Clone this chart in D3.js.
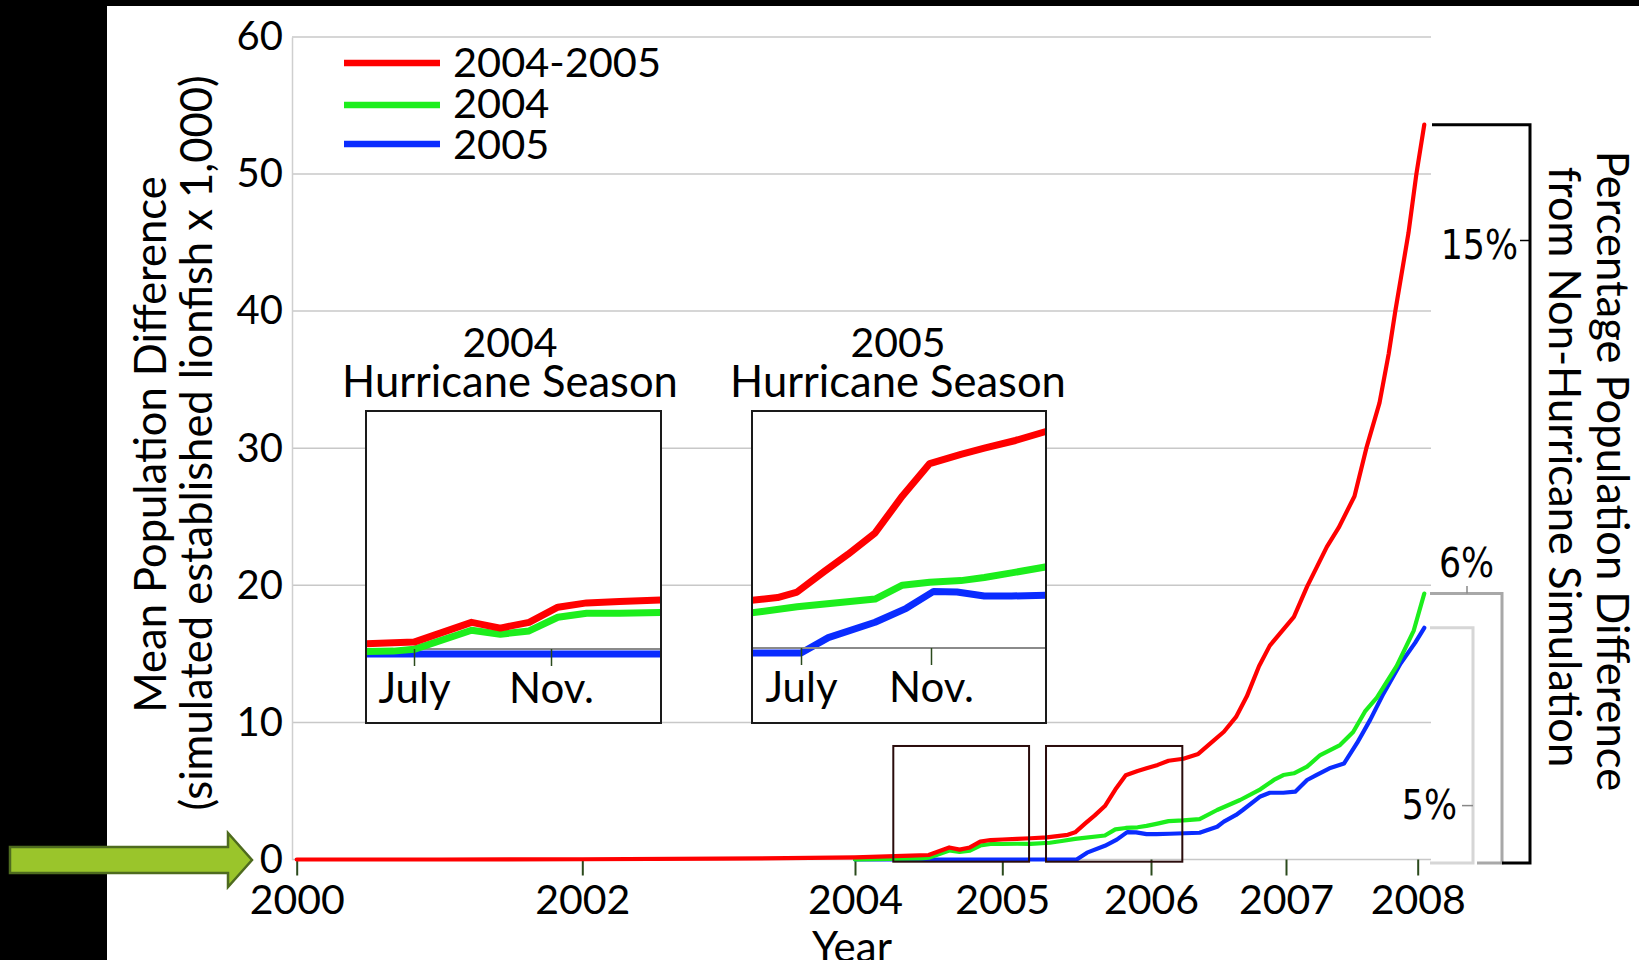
<!DOCTYPE html>
<html><head><meta charset="utf-8">
<script src="https://cdn.jsdelivr.net/npm/d3@7"></script>
<style>html,body{margin:0;padding:0;background:#000;}svg{display:block}</style>
</head><body>
<svg id="c" width="1639" height="960"></svg>
<script>
// ---------------- DATA ----------------
const seriesNames = ["2004-2005", "2004", "2005"];
const seriesColors = ["#ff0000", "#1cee1c", "#0a2cff"];
const yTicks = [0, 10, 20, 30, 40, 50, 60];
const xTickYears = [2000, 2002, 2004, 2005, 2006, 2007, 2008];

// [year, mean population difference (x1,000)]
const red2004_2005 = [
  [2000,0],[2001,0],[2002,0.02],[2003,0.06],[2003.5,0.1],[2004,0.15],[2004.38,0.28],[2004.5,0.33],
  [2004.64,0.88],[2004.71,0.72],[2004.78,0.88],[2004.85,1.3],[2004.92,1.42],[2005.0,1.46],[2005.1,1.5],
  [2005.19,1.55],[2005.3,1.62],[2005.44,1.8],[2005.49,1.98],[2005.56,2.65],[2005.62,3.2],[2005.69,3.9],
  [2005.76,5.1],[2005.83,6.15],[2005.91,6.45],[2005.97,6.65],[2006.05,6.9],[2006.13,7.2],[2006.24,7.35],
  [2006.35,7.7],[2006.44,8.47],[2006.54,9.32],[2006.63,10.4],[2006.71,11.9],[2006.8,14.1],[2006.88,15.6],
  [2007.06,17.7],[2007.16,19.9],[2007.31,22.8],[2007.4,24.2],[2007.52,26.5],[2007.61,30.0],[2007.71,33.3],
  [2007.78,36.9],[2007.83,40.0],[2007.93,45.7],[2007.99,50.0],[2008.05,53.6]
];
const green2004 = [
  [2004.0,0],[2004.45,0.08],[2004.5,0.13],[2004.64,0.66],[2004.71,0.55],[2004.78,0.64],[2004.85,1.02],
  [2004.92,1.13],[2005.0,1.13],[2005.1,1.15],[2005.19,1.14],[2005.32,1.22],[2005.4,1.35],[2005.49,1.5],
  [2005.69,1.75],[2005.76,2.2],[2005.83,2.3],[2005.91,2.35],[2005.97,2.45],[2006.04,2.6],[2006.13,2.8],
  [2006.24,2.85],[2006.36,2.95],[2006.49,3.61],[2006.66,4.34],[2006.81,5.12],[2006.91,5.8],[2006.98,6.16],
  [2007.06,6.29],[2007.16,6.77],[2007.26,7.62],[2007.41,8.35],[2007.51,9.3],[2007.6,10.8],[2007.69,11.8],
  [2007.84,14.1],[2007.97,16.7],[2008.05,19.4]
];
const blue2005 = [
  [2004.0,0],[2005.5,0],[2005.57,0.5],[2005.69,1.0],[2005.77,1.45],[2005.84,2.0],[2005.9,1.98],
  [2005.97,1.85],[2006.04,1.85],[2006.14,1.88],[2006.36,1.95],[2006.49,2.39],[2006.54,2.76],[2006.63,3.25],
  [2006.68,3.61],[2006.81,4.6],[2006.88,4.87],[2006.98,4.87],[2007.07,4.95],[2007.16,5.8],[2007.23,6.16],
  [2007.33,6.65],[2007.44,7.0],[2007.54,8.5],[2007.64,10.2],[2007.74,12.1],[2007.87,14.3],[2007.98,15.8],
  [2008.05,16.9]
];
const seriesData = [red2004_2005, green2004, blue2005];

// zoom rectangles [startYear, endYear, bottomValue, topValue]
const zoomRects = [[2004.26, 2005.18, -0.16, 8.28], [2005.294, 2006.232, -0.16, 8.28]];
// inset seasons
const insetTitles = [["2004", "Hurricane Season"], ["2005", "Hurricane Season"]];
const insetTickLabels = ["July", "Nov."];
const insetTickYears = [[2004.5, 2004 + 10/12], [2005.5, 2005 + 10/12]];
const pctLabels = ["15%", "6%", "5%"];
const yTitle = ["Mean Population Difference", "(simulated established lionfish x 1,000)"];
const rTitle = ["Percentage Population Difference", "from Non-Hurricane Simulation"];
const xTitle = "Year";

// ---------------- LAYOUT ----------------
const FONT = "Lato, 'Open Sans', sans-serif";
const svg = d3.select("#c");
svg.append("rect").attr("width", 1639).attr("height", 960).attr("fill", "#000");
svg.append("rect").attr("x", 107).attr("y", 6).attr("width", 1532).attr("height", 954).attr("fill", "#fff");

const x = d3.scaleLinear().domain(xTickYears).range([296.7, 582.3, 855, 1002.3, 1151, 1286, 1417.7]);
const y = d3.scaleLinear().domain([0, 60]).range([859.5, 36.9]);
const plotL = 292, plotR = 1431;

// gridlines
svg.append("g").selectAll("line").data(yTicks).join("line")
  .attr("x1", plotL).attr("x2", plotR).attr("y1", d => y(d)).attr("y2", d => y(d))
  .attr("stroke", "#c8c8c8").attr("stroke-width", 1.5);

// y axis
const gY = svg.append("g").attr("transform", `translate(${plotL},0)`)
  .call(d3.axisLeft(y).tickValues(yTicks).tickSize(0).tickPadding(9));
gY.select(".domain").attr("stroke", "#cfcfcf").attr("stroke-width", 1.5);
gY.selectAll("text").attr("font-family", FONT).attr("font-size", 40).attr("fill", "#000");

// x axis
const gX = svg.append("g").attr("transform", `translate(0,${y(0)})`)
  .call(d3.axisBottom(x).tickValues(xTickYears).tickFormat(d3.format("d")).tickSize(16).tickPadding(9));
gX.select(".domain").remove();
gX.selectAll(".tick line").attr("stroke", "#2b4a1c").attr("stroke-width", 2);
gX.selectAll("text").attr("font-family", FONT).attr("font-size", 41).attr("fill", "#000");

svg.append("text").attr("x", 852).attr("y", 962).attr("text-anchor", "middle")
  .attr("font-family", FONT).attr("font-size", 42).text(xTitle);

// y title
yTitle.forEach((t, i) => {
  svg.append("text").attr("transform", `translate(${[166, 212][i]},${[444.5, 443][i]}) rotate(-90)`)
    .attr("text-anchor", "middle").attr("font-family", FONT).attr("font-size", 43.5).text(t);
});
// right title
rTitle.forEach((t, i) => {
  svg.append("text").attr("transform", `translate(${[1597, 1549][i]},${[471, 467][i]}) rotate(90)`)
    .attr("text-anchor", "middle").attr("font-family", FONT).attr("font-size", 43.5).text(t);
});

// lines
const line = d3.line().x(d => x(d[0])).y(d => y(d[1]));
[2, 1, 0].forEach(i => {
  svg.append("path").datum(seriesData[i]).attr("d", line).attr("fill", "none")
    .attr("stroke", seriesColors[i]).attr("stroke-width", 4.2)
    .attr("stroke-linejoin", "round").attr("stroke-linecap", "round");
});

// zoom rectangles
svg.append("g").selectAll("rect").data(zoomRects).join("rect")
  .attr("x", d => x(d[0])).attr("y", d => y(d[3]))
  .attr("width", d => x(d[1]) - x(d[0])).attr("height", d => y(d[2]) - y(d[3]))
  .attr("fill", "none").attr("stroke", "#2a0c0c").attr("stroke-width", 2);

// right brackets
const ends = seriesData.map(s => s[s.length - 1][1]);
const yb = 863;
const br = svg.append("g").attr("fill", "none").attr("stroke-width", 3);
br.append("path").attr("d", `M1430,${y(ends[2])}H1473V${yb}H1430`).attr("stroke", "#d6d6d6");
br.append("path").attr("d", `M1430,${y(ends[1])}H1502V${yb}H1477`).attr("stroke", "#a8a8a8");
br.append("path").attr("d", `M1432,${y(ends[0])}H1530V${yb}H1502`).attr("stroke", "#000");
br.append("line").attr("x1", 1520).attr("x2", 1530).attr("y1", 240.5).attr("y2", 240.5).attr("stroke", "#000").attr("stroke-width", 1.5);
br.append("line").attr("x1", 1467).attr("x2", 1467).attr("y1", 586).attr("y2", y(ends[1])).attr("stroke", "#888").attr("stroke-width", 1.5);
br.append("line").attr("x1", 1462).attr("x2", 1473).attr("y1", 805.6).attr("y2", 805.6).attr("stroke", "#888").attr("stroke-width", 1.5);
const pctPos = [[1518, 259, "end"], [1466.5, 577, "middle"], [1457, 818.5, "end"]];
pctLabels.forEach((t, i) => {
  svg.append("text").attr("transform", `translate(${pctPos[i][0]},${pctPos[i][1]}) scale(0.87,1)`)
    .attr("text-anchor", pctPos[i][2]).attr("font-family", "'DejaVu Sans', Verdana, sans-serif")
    .attr("font-size", 40).text(t);
});

// legend
const legY = [63, 105, 144], legBase = [77, 118, 159];
seriesNames.forEach((n, i) => {
  svg.append("line").attr("x1", 344).attr("x2", 440).attr("y1", legY[i]).attr("y2", legY[i])
    .attr("stroke", seriesColors[i]).attr("stroke-width", 6.5);
  svg.append("text").attr("x", 453).attr("y", legBase[i]).attr("font-family", FONT)
    .attr("font-size", 41.5).text(n);
});

// insets
const insetBoxes = [[366, 411, 661, 723], [752, 411, 1046, 723]];
const insetTickPx = [[414, 551], [801, 931]];
const insetZeroY = [654, 653], insetUnitPx = [36, 30.8], insetAxisY = [649, 648];
const insetTitleX = [510, 898];
insetBoxes.forEach((b, k) => {
  const g = svg.append("g");
  g.append("rect").attr("x", b[0]).attr("y", b[1]).attr("width", b[2] - b[0]).attr("height", b[3] - b[1])
    .attr("fill", "#fff");
  const ix = d3.scaleLinear().domain(insetTickYears[k]).range(insetTickPx[k]);
  const iy = d3.scaleLinear().domain([0, 1]).range([insetZeroY[k], insetZeroY[k] - insetUnitPx[k]]);
  const cid = "clip" + k;
  svg.append("clipPath").attr("id", cid).append("rect")
    .attr("x", b[0]).attr("y", b[1]).attr("width", b[2] - b[0]).attr("height", b[3] - b[1]);
  const lg = g.append("g").attr("clip-path", `url(#${cid})`);
  const iline = d3.line().x(d => ix(d[0])).y(d => iy(d[1]));
  [2, 1, 0].forEach(i => {
    if (i === 1) {
      lg.append("line").attr("x1", b[0]).attr("x2", b[2]).attr("y1", insetAxisY[k]).attr("y2", insetAxisY[k])
        .attr("stroke", "#8a8a8a").attr("stroke-width", 2);
    }
    lg.append("path").datum(seriesData[i]).attr("d", iline).attr("fill", "none")
      .attr("stroke", seriesColors[i]).attr("stroke-width", 7).attr("stroke-linejoin", "round");
  });
  const ga = g.append("g").attr("transform", `translate(0,${insetAxisY[k]})`)
    .call(d3.axisBottom(ix).tickValues(insetTickYears[k]).tickFormat((d, j) => insetTickLabels[j])
      .tickSize(17).tickPadding(7));
  ga.select(".domain").remove();
  ga.selectAll(".tick line").attr("stroke", "#2b4a1c").attr("stroke-width", 1.5);
  ga.selectAll("text").attr("font-family", FONT).attr("font-size", 42).attr("fill", "#000");
  g.append("rect").attr("x", b[0]).attr("y", b[1]).attr("width", b[2] - b[0]).attr("height", b[3] - b[1])
    .attr("fill", "none").attr("stroke", "#1a1a1a").attr("stroke-width", 2);
  insetTitles[k].forEach((t, j) => {
    g.append("text").attr("x", insetTitleX[k]).attr("y", [357, 397][j]).attr("text-anchor", "middle")
      .attr("font-family", FONT).attr("font-size", j === 0 ? 41 : 43.5).text(t);
  });
});

// green arrow
svg.append("path").attr("d", "M10,847H228V833L252,860L228,887V873H10Z")
  .attr("fill", "#9ac52b").attr("stroke", "#4e6b1f").attr("stroke-width", 2.5);
</script>
</body></html>
